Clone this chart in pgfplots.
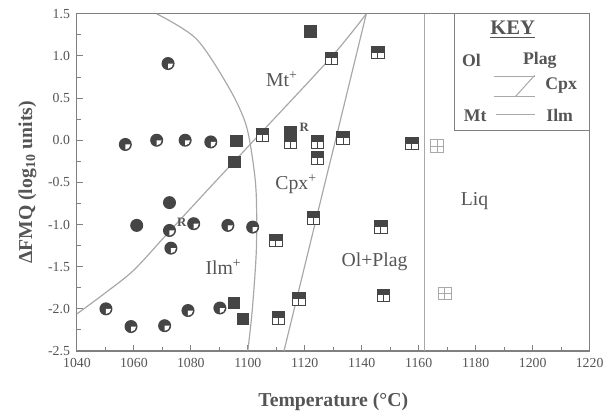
\documentclass[border=0pt]{standalone}
\usepackage{pgfplots}
\pgfplotsset{compat=1.18}
\usepackage{fontspec}
\setmainfont{Liberation Serif}

\definecolor{ink}{HTML}{555555}
\definecolor{mk}{HTML}{454545}
\definecolor{ln}{HTML}{A8A8A8}
\definecolor{frame}{HTML}{808080}

% square: top half filled (Ol+Plag), bottom half open and split
\pgfdeclareplotmark{olsq}{%
  \pgfsetfillcolor{white}\pgfsetstrokecolor{mk}\pgfsetlinewidth{0.5pt}%
  \pgfpathrectangle{\pgfpoint{-\pgfplotmarksize}{-\pgfplotmarksize}}{\pgfpoint{2\pgfplotmarksize}{2\pgfplotmarksize}}%
  \pgfusepath{fill,stroke}%
  \pgfpathmoveto{\pgfpoint{0pt}{-\pgfplotmarksize}}\pgfpathlineto{\pgfpoint{0pt}{0pt}}%
  \pgfusepath{stroke}%
  \pgfsetfillcolor{mk}%
  \pgfpathrectangle{\pgfpoint{-\pgfplotmarksize}{0pt}}{\pgfpoint{2\pgfplotmarksize}{\pgfplotmarksize}}%
  \pgfusepath{fill}}
% fully filled square
\pgfdeclareplotmark{fullsq}{%
  \pgfsetfillcolor{mk}%
  \pgfpathrectangle{\pgfpoint{-\pgfplotmarksize}{-\pgfplotmarksize}}{\pgfpoint{2\pgfplotmarksize}{2\pgfplotmarksize}}%
  \pgfusepath{fill}}
% open square with cross
\pgfdeclareplotmark{liqsq}{%
  \pgfsetfillcolor{white}\pgfsetstrokecolor{ln}\pgfsetlinewidth{0.5pt}%
  \pgfpathrectangle{\pgfpoint{-\pgfplotmarksize}{-\pgfplotmarksize}}{\pgfpoint{2\pgfplotmarksize}{2\pgfplotmarksize}}%
  \pgfusepath{fill,stroke}%
  \pgfpathmoveto{\pgfpoint{0pt}{-\pgfplotmarksize}}\pgfpathlineto{\pgfpoint{0pt}{\pgfplotmarksize}}%
  \pgfpathmoveto{\pgfpoint{-\pgfplotmarksize}{0pt}}\pgfpathlineto{\pgfpoint{\pgfplotmarksize}{0pt}}%
  \pgfusepath{stroke}}
% circle with an open quadrant
\pgfdeclareplotmark{olcirc}{%
  \pgfsetfillcolor{mk}%
  \pgfpathcircle{\pgfpointorigin}{\pgfplotmarksize}\pgfusepath{fill}%
  \pgfsetfillcolor{white}%
  \pgfpathmoveto{\pgfpointorigin}%
  \pgfpathlineto{\pgfpoint{0.78\pgfplotmarksize}{0pt}}%
  \pgfpatharc{0}{-90}{0.78\pgfplotmarksize}%
  \pgfpathclose\pgfusepath{fill}}
\pgfdeclareplotmark{fullcirc}{%
  \pgfsetfillcolor{mk}%
  \pgfpathcircle{\pgfpointorigin}{\pgfplotmarksize}\pgfusepath{fill}}

\begin{document}
\begin{tikzpicture}
\begin{axis}[
  name=ax,
  scale only axis,
  width=260pt, height=171pt,
  xmin=1040, xmax=1220, ymin=-2.5, ymax=1.5,
  xtick={1040,1060,...,1220},
  ytick={-2.5,-2,...,1.5},
  minor tick num=1,
  xtick pos=bottom, ytick pos=left,
  tick align=inside,
  major tick length=3pt, minor tick length=2pt,
  every tick/.style={frame, line width=0.5pt},
  axis line style={frame, line width=0.6pt},
  /pgf/number format/assume math mode=true,
  x tick label style={font=\fontsize{7}{8}\selectfont, text=ink,
    /pgf/number format/.cd, 1000 sep={}},
  y tick label style={font=\fontsize{7}{8}\selectfont, text=ink,
    /pgf/number format/.cd, fixed, fixed zerofill, precision=1},
  xlabel={\bfseries Temperature (°C)},
  ylabel={\bfseries ΔFMQ (log\textsubscript{10} units)},
  label style={font=\fontsize{10}{12}\selectfont, text=ink},
  xlabel style={yshift=-6pt},
  ylabel style={yshift=-1pt},
  clip=false,
]
% phase boundaries
\addplot[ln, line width=0.6pt, smooth] coordinates {
  (1068,1.5) (1082,1.2) (1093.6,0.61) (1099.4,0.18) (1102,-0.3)
  (1103,-0.68) (1103,-1.3) (1101.6,-2.0) (1100,-2.5)};
\addplot[ln, line width=0.6pt, smooth] coordinates {
  (1040,-2.06) (1050,-1.81) (1060,-1.54) (1071.7,-1.11) (1086.7,-0.56)
  (1103,0.03) (1129.4,0.99) (1141.6,1.5)};
\addplot[ln, line width=0.6pt] coordinates {
  (1112.7,-2.5) (1126.7,-0.56) (1131,0.03) (1141.6,1.5)};
\addplot[ln, line width=0.6pt] coordinates {(1162,-2.5) (1162,1.5)};

% circles: Ol + Mt/Ilm
\addplot[only marks, mark=olcirc, mark size=3.3pt] coordinates {
  (1072,0.91) (1057,-0.05) (1068,0.0) (1078,0.0) (1087,-0.02)
  (1072.5,-1.07) (1081,-0.99) (1093,-1.01) (1101.7,-1.03) (1073,-1.28)
  (1050.2,-2.0) (1059,-2.21) (1070.8,-2.2) (1079,-2.02) (1090.2,-1.99)};
\addplot[only marks, mark=fullcirc, mark size=3.3pt] coordinates {
  (1061,-1.01) (1072.5,-0.74)};
% squares
\addplot[only marks, mark=fullsq, mark size=3.2pt] coordinates {
  (1096,-0.01) (1095.4,-0.26) (1115,0.1) (1122,1.29)
  (1095.2,-1.93) (1098.3,-2.12)};
\addplot[only marks, mark=olsq, mark size=3.2pt] coordinates {
  (1105.2,0.06) (1115,-0.02) (1124.5,-0.02) (1124.5,-0.21) (1133.5,0.03)
  (1129.4,0.97) (1145.6,1.04) (1157.6,-0.04)
  (1109.8,-1.19) (1123,-0.92) (1110.8,-2.11) (1117.9,-1.88)
  (1146.7,-1.03) (1147.7,-1.84)};
\addplot[only marks, mark=liqsq, mark size=3.2pt] coordinates {
  (1166.5,-0.07) (1169.2,-1.82)};

% field labels
\begin{scope}[every node/.style={font=\fontsize{10}{12}\selectfont, text=ink}]
\node at (axis cs:1112,0.72) {Mt\textsuperscript{+}};
\node at (axis cs:1117,-0.52) {Cpx\textsuperscript{+}};
\node at (axis cs:1091.5,-1.5) {Ilm\textsuperscript{+}};
\node at (axis cs:1144.5,-1.44) {Ol+Plag};
\node at (axis cs:1179.6,-0.72) {Liq};
\end{scope}
\node[font=\fontsize{6.5}{7}\selectfont\bfseries, text=ink] at (axis cs:1119.8,0.15) {R};
\node[font=\fontsize{6.5}{7}\selectfont\bfseries, text=ink] at (axis cs:1076.8,-0.97) {R};

% key
\draw[frame, line width=0.5pt] (axis cs:1172.5,1.5) rectangle (axis cs:1220,0.11);
\node[font=\fontsize{10.5}{12}\selectfont\bfseries, text=ink] at (axis cs:1193,1.31) {\underline{KEY}};
\begin{scope}[every node/.style={font=\fontsize{9}{10}\selectfont\bfseries, text=ink}]
\node at (axis cs:1178.5,0.95) {Ol};
\node at (axis cs:1202.5,0.95) {Plag};
\node at (axis cs:1210,0.65) {Cpx};
\node at (axis cs:1179.8,0.29) {Mt};
\node at (axis cs:1209.5,0.29) {Ilm};
\end{scope}
\draw[ln, line width=0.5pt] (axis cs:1186.5,0.76) -- (axis cs:1200.7,0.76);
\draw[ln, line width=0.5pt] (axis cs:1186.5,0.52) -- (axis cs:1200.7,0.52);
\draw[ln, line width=0.5pt] (axis cs:1194,0.52) -- (axis cs:1200.7,0.77);
\draw[ln, line width=0.5pt] (axis cs:1187,0.30) -- (axis cs:1200.7,0.30);
\end{axis}
\path ([shift={(-39pt,-29.5pt)}]ax.south west) rectangle ([shift={(6pt,7pt)}]ax.north east);
\end{tikzpicture}
\end{document}
